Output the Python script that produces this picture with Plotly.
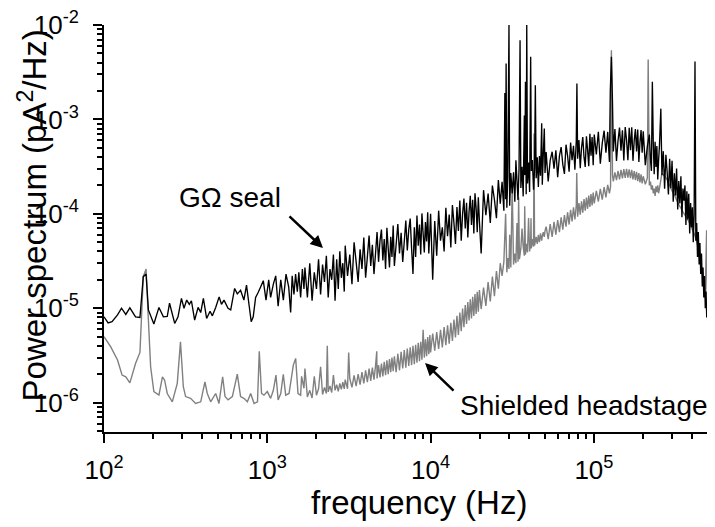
import plotly.graph_objects as go

# ---------------- data ----------------
# frequency in Hz, power in units of 1e-6 pA^2/Hz
# ---- GΩ seal (black) ----
seal_f_1 = [100, 106, 112, 121, 128, 136, 144, 156, 166, 174, 181, 187, 202, 217, 231, 244, 252, 271, 284, 298,
            309, 321, 333, 343, 359, 377, 391, 406, 425, 446, 461, 483, 507, 524, 543, 575, 597, 631, 655, 686,
            719, 746, 775, 797, 820, 848, 876, 910, 945, 982, 1020, 1048, 1089, 1126, 1165, 1209, 1254, 1302,
            1352, 1390, 1420, 1456, 1490, 1527, 1560, 1600, 1640, 1677]
seal_p_1 = [8.1, 7.0, 7.2, 8.5, 10, 8.6, 10.1, 8.1, 8.0, 21.6, 23, 9.6, 6.8, 10.2, 8.1, 8.2, 11.3, 6.9, 8.1, 12.7,
            10, 12.2, 11, 12, 7.5, 10.2, 9.0, 12.7, 7.8, 9.3, 8.3, 10.2, 13.2, 11, 12.2, 10, 9.6, 16.2, 14.2, 15.5,
            12.2, 17.6, 10.5, 7.2, 8.1, 13, 14.5, 16.8, 19.6, 12.2, 20, 13, 18, 22, 10.5, 20, 12.2, 23,
            16.8, 9.0, 22, 14, 23, 15, 24, 13, 26, 16]
seal_f_2 = [1700, 1760, 1820, 1880, 1940, 2000, 2060, 2120, 2180, 2240, 2300, 2360, 2420, 2480, 2540, 2600,
            2660, 2720, 2780, 2840, 2900, 2960,
            3000, 3100, 3200, 3300, 3400, 3500, 3600, 3700, 3800, 3900, 4000, 4100, 4200, 4300, 4400, 4500,
            4600, 4700, 4800, 4900, 5000, 5100, 5200, 5300, 5400, 5500, 5600, 5700, 5800, 5900]
seal_p_2 = [27, 13, 30, 12, 24, 16, 33, 14, 29, 19, 36, 13, 26, 20, 37, 12, 33, 16, 40, 21, 30, 15,
            46, 22, 37, 18, 50, 31, 19, 42, 26, 56, 21, 35, 59, 28, 47, 23, 38, 64, 31, 52,
            68, 32, 54, 26, 71, 43, 27, 57, 35, 75]
seal_f_3 = [6000, 6150, 6300, 6450, 6600, 6750, 6900, 7050, 7200, 7350, 7500, 7650, 7800, 7950, 8100, 8250,
            8400, 8550, 8700, 8850, 9000, 9150, 9300, 9450, 9600, 9750, 9900,
            10000, 10300, 10600, 10900, 11200, 11500, 11800, 12100, 12400, 12700, 13000, 13300, 13600, 13900,
            14200, 14500, 14800, 15100, 15400, 15700, 16000, 16300, 16600, 16900, 17200, 17500, 17800, 18100,
            18400, 18700, 19000, 19300, 19600, 19900]
seal_p_3 = [28, 47, 78, 38, 63, 31, 51, 85, 41, 68, 89, 43, 23, 72, 35, 96, 46, 77, 37, 101, 62, 39, 82, 51,
            104, 38, 67,
            100, 20, 84, 36, 108, 52, 72, 40, 116, 58, 98, 44, 124, 80, 48, 118, 66, 138, 52,
            100, 145, 70, 131, 56, 105, 155, 76, 141, 62, 165, 115, 64, 150, 84]
seal_f_4 = [20400, 21100, 21800, 22500, 23200, 23900, 24600, 25300, 26000, 26700, 27400, 28100, 28500, 28800,
            29000, 29300, 29700, 30200, 30500, 31000, 31600, 32200, 32800, 33300, 33800, 34300, 34800, 35300,
            35700, 36300, 36900, 37500, 37800, 38100, 38500, 38800, 39200, 39800, 40400, 41000, 41400, 42000,
            42700, 43300, 43800, 44300, 45000, 45700, 46400, 47100, 47900, 48300, 49000, 49700, 50200]
seal_p_4 = [38, 178, 97, 164, 80, 199, 141, 90, 228, 128, 218, 108, 1900, 143, 3900, 116, 248, 10000, 122,
            270, 164, 275, 134, 370, 226, 140, 300, 6900, 188, 315, 153, 1100, 257, 2500, 161, 10000, 210, 350,
            170, 4600, 285, 372, 180, 300, 2300, 238, 397, 192, 410, 253, 910, 203, 433, 800, 271]
seal_f_5 = [51000, 52500, 54000, 55500, 57000, 58500, 60000, 61500, 63000, 64500, 66000, 67500, 69000, 70500,
            72000, 73500, 75000, 76500, 78000, 78700, 79500, 81000, 82500, 84000, 85500, 87000, 88500, 90000,
            91500, 93000, 94500, 96000, 97500, 99000,
            100500, 103500, 106500, 109500, 112500, 115500, 118500, 121500, 124500, 126000, 128000, 130000,
            131500, 134500, 137500, 140500, 143500, 146500, 149500, 152500, 155500, 158500, 161500, 164500,
            167500, 170500, 173500, 176500, 179500, 182500, 185500, 188500, 191500, 194500, 197500]
seal_p_5 = [450, 220, 369, 455, 301, 470, 245, 410, 510, 333, 265, 540, 412, 280, 570, 369, 524, 294, 594,
            2400, 384, 606, 305, 503, 649, 398, 313, 661, 475, 319, 706, 413, 650, 327,
            693, 426, 739, 339, 561, 759, 445, 737, 354, 2000, 4600, 1500, 458, 792, 362, 595, 819, 467,
            769, 367, 828, 605, 370, 814, 471, 824, 364, 594, 792, 458, 783, 354, 577, 770, 444]
seal_f_6 = [200500, 206500, 212500, 218500, 222000, 225000, 228000, 231000, 234000, 237000, 240000, 243000,
            246000, 249000, 252000, 257000, 261000, 266000, 271000, 276000, 281000, 286000, 291000, 296000,
            301000, 306000, 311000, 316000, 321000, 326000, 331000, 336000, 341000, 346000, 351000, 356000,
            361000, 366000, 371000, 376000, 381000, 386000, 391000, 396000, 401000, 406000, 411000, 416000,
            421000, 426000, 431000, 436000, 441000, 446000, 451000, 456000, 461000, 466000, 471000, 476000,
            481000, 486000, 491000, 496000, 500000]
seal_p_6 = [748, 328, 517, 690, 374, 285, 2500, 571, 262, 580, 314, 524, 231, 369, 523, 1300, 256, 461, 184,
            422, 276, 160, 383, 187, 364, 134, 269, 156, 302, 111, 223, 129, 250, 92, 185, 138, 200, 76, 173,
            87, 163, 62, 130, 72, 117, 50, 99, 4100, 52, 80, 35, 64, 29, 49, 23, 38, 17, 27, 13, 22,
            10, 15, 8, 10, 7]

# ---- Shielded headstage (grey) ----
shield_f_1 = [100, 110, 121, 129, 136, 144, 156, 166, 174, 181, 187, 193, 202, 217, 228, 235, 244, 262, 281,
              294, 306, 316, 339, 364, 391, 415, 429, 450, 483, 506, 533, 551, 575, 611, 655, 686, 719, 755,
              791, 830, 871, 893, 922, 954, 1000, 1048, 1089, 1130, 1165, 1209, 1253, 1296, 1359, 1443, 1492,
              1542, 1600, 1622, 1677]
shield_p_1 = [5.0, 3.9, 2.83, 1.96, 1.88, 1.62, 2.6, 3.4, 21.6, 26, 7.5, 2.4, 1.31, 1.2, 1.88, 1.73, 1.25,
              1.02, 1.6, 4.4, 1.48, 1.16, 1.11, 0.98, 1.02, 1.66, 1.25, 1.02, 1.25, 0.98, 1.88, 1.16, 1.07,
              1.16, 2.0, 1.16, 1.11, 1.02, 1.25, 0.98, 1.02, 3.5, 1.25, 1.2, 1.31, 1.11, 1.35, 1.96, 1.07,
              1.25, 2.0, 1.2, 1.25, 2.5, 2.94, 1.25, 1.2, 1.9, 1.42]
shield_f_2 = [1700, 1760, 1820, 1880, 1940, 2000, 2060, 2120, 2180, 2240, 2300, 2330, 2360, 2420, 2480, 2540,
              2600, 2660, 2720, 2780, 2840, 2900, 2960,
              3000, 3100, 3150, 3200, 3300, 3400, 3500, 3600, 3700, 3800, 3900, 4000, 4100, 4200, 4300, 4400,
              4500, 4600, 4680, 4700, 4800, 4900, 5000, 5100, 5200, 5300, 5400, 5500, 5600, 5700, 5800, 5900]
shield_p_2 = [2.3, 1.15, 1.35, 1.12, 1.9, 1.2, 1.4, 2.4, 1.22, 1.45, 1.25, 4.0, 1.3, 1.5, 1.28, 1.96, 1.35,
              1.55, 1.32, 1.6, 1.38, 1.65, 1.4,
              1.75, 1.4, 3.4, 1.8, 1.45, 1.95, 1.5, 2.0, 1.55, 2.1, 1.6, 2.2, 1.65, 2.3, 1.7, 2.35, 1.75, 2.45,
              3.5, 1.8, 2.5, 1.85, 2.6, 1.9, 2.7, 1.95, 2.8, 2.0, 2.9, 2.1, 3.0, 2.15]
shield_f_3 = [6000, 6150, 6300, 6450, 6600, 6750, 6900, 7050, 7200, 7350, 7500, 7650, 7800, 7950, 8100, 8250,
              8400, 8550, 8700, 8850, 9000, 9150, 9300, 9450, 9600, 9750, 9900,
              10000, 10300, 10600, 10900, 11200, 11500, 11800, 12100, 12400, 12700, 13000, 13300, 13600,
              13900, 14200, 14500, 14800, 15100, 15400, 15700, 16000, 16300, 16600, 16900, 17200, 17500,
              17800, 18100, 18400, 18700, 19000, 19300, 19600, 19900]
shield_p_3 = [3.1, 2.1, 3.3, 2.2, 3.45, 2.3, 3.6, 2.35, 3.75, 2.45, 3.85, 2.5, 4.0, 2.55, 4.1, 2.65, 4.3, 2.75,
              4.4, 2.85, 5.9, 3.0, 4.7, 3.1, 4.95, 3.25, 5.2,
              3.4, 5.4, 3.55, 5.6, 3.7, 5.9, 3.85, 6.3, 4.05, 6.6, 4.2, 7.0, 4.5, 7.6, 4.9, 8.3, 5.2, 9.0, 5.7,
              9.9, 6.3, 10.8, 6.8, 11.6, 7.4, 12.4, 7.8, 13.2, 8.3, 14.1, 8.7, 14.9, 9.2, 15.6]
shield_f_4 = [20400, 21100, 21800, 22500, 23200, 23900, 24600, 25300, 26000, 26700, 27400, 28100, 28800,
              29300, 29700, 30200, 30500, 31000, 31600, 32200, 32800, 33300, 33800, 34300, 34600, 35000,
              35700, 36300, 36900, 37500, 37700, 38100, 38500, 39200, 39800, 40400, 41000, 41200, 41400,
              42000, 42700, 43000, 43300, 44300, 45000, 45700, 46400, 47100, 47900, 48300, 49000, 49700, 50200]
shield_p_4 = [9.8, 16.5, 10.6, 18.9, 11.8, 21.6, 13.4, 24.8, 16.1, 30, 22, 31, 100, 24, 34, 26, 60, 27, 200,
              29, 38, 30, 80, 31, 150, 33, 43, 70, 45, 36, 120, 37, 48, 39, 90, 40, 52, 90, 43, 54, 45, 710, 46,
              57, 48, 60, 50, 62, 52, 58, 64, 57, 66]
shield_f_5 = [51000, 52500, 54000, 55500, 57000, 58500, 60000, 61500, 63000, 64500, 66000, 67500, 69000,
              70500, 72000, 73500, 75000, 76500, 78000, 78500, 79500, 81000, 82500, 84000, 85500, 87000,
              88500, 90000, 91500, 93000, 94500, 96000, 97500, 99000,
              100500, 103500, 106500, 109500, 112500, 115500, 118500, 121500, 124500, 126500, 127000, 128000,
              129000, 130000, 131500, 134500, 137500, 140500, 143500, 146500, 149500, 152500, 155500, 158500,
              161500, 164500, 167500, 170500, 173500, 176500, 179500, 182500, 185500, 188500, 191500, 194500,
              197500]
shield_p_5 = [73, 54, 78, 57, 82, 60, 86, 64, 92, 68, 97, 73, 104, 77, 110, 83, 117, 87, 123, 270, 93, 130,
              98, 136, 103, 143, 108, 149, 113, 156, 118, 162, 123, 168,
              129, 175, 135, 184, 141, 192, 149, 203, 165, 195, 1200, 5400, 1500, 255, 220, 275, 228, 285, 232,
              292, 238, 298, 240, 300, 242, 296, 238, 292, 232, 284, 228, 278, 222, 270, 215, 262, 210]
shield_f_6 = [200500, 206500, 212500, 215000, 218500, 222000, 225000, 228000, 231000, 234000, 237000, 240000,
              243000, 246000, 249000, 252000, 261000, 271000, 281000, 291000, 301000, 311000, 321000, 331000,
              341000, 351000, 361000, 371000, 381000, 391000, 401000, 411000, 421000, 431000, 441000, 451000,
              461000, 471000, 481000, 490000, 496000, 500000]
shield_p_6 = [250, 205, 240, 4300, 200, 220, 180, 200, 165, 185, 155, 195, 170, 200, 165, 185, 270, 250, 230,
              200, 175, 160, 140, 125, 115, 105, 97, 90, 83, 76, 68, 62, 55, 47, 38, 31, 25, 19, 15, 67, 9, 5]

# tick labels
x_tick_vals = [1e2, 1e3, 1e4, 1e5]
x_tick_text = ["10<sup>2</sup>", "10<sup>3</sup>", "10<sup>4</sup>", "10<sup>5</sup>"]
y_tick_vals = [1e-6, 1e-5, 1e-4, 1e-3, 1e-2]
y_tick_text = ["10<sup>-6</sup>", "10<sup>-5</sup>", "10<sup>-4</sup>", "10<sup>-3</sup>", "10<sup>-2</sup>"]

# ---------------- assemble ----------------
seal_segments = [(seal_f_1, seal_p_1), (seal_f_2, seal_p_2), (seal_f_3, seal_p_3),
                 (seal_f_4, seal_p_4), (seal_f_5, seal_p_5), (seal_f_6, seal_p_6)]
shield_segments = [(shield_f_1, shield_p_1), (shield_f_2, shield_p_2), (shield_f_3, shield_p_3),
                   (shield_f_4, shield_p_4), (shield_f_5, shield_p_5), (shield_f_6, shield_p_6)]


def join(segments, name):
    fs, ps = [], []
    for i, (f, p) in enumerate(segments):
        assert len(f) == len(p), f"{name} segment {i + 1}: {len(f)} freqs vs {len(p)} values"
        fs += f
        ps += [v * 1e-6 for v in p]
    assert all(a < b for a, b in zip(fs, fs[1:])), f"{name} frequencies not increasing"
    return fs, ps


freq_seal, psd_seal = join(seal_segments, "seal")
freq_shield, psd_shield = join(shield_segments, "shield")

FONT = "Liberation Sans, Arial, sans-serif"

x_minor = [k * 10 ** e for e in range(2, 6) for k in range(2, 10) if k * 10 ** e <= 5.5e5]
y_minor = [k * 10.0 ** e for e in range(-7, -2) for k in range(2, 10) if 4.9e-7 <= k * 10.0 ** e <= 1e-2]

fig = go.Figure()
fig.add_trace(go.Scatter(x=freq_shield, y=psd_shield, mode="lines",
                         line=dict(color="#808080", width=1.4, simplify=False),
                         showlegend=False, hoverinfo="skip"))
fig.add_trace(go.Scatter(x=freq_seal, y=psd_seal, mode="lines",
                         line=dict(color="#000000", width=1.35, simplify=False),
                         showlegend=False, hoverinfo="skip"))

axis_common = dict(
    type="log", showgrid=False, zeroline=False, showline=True, linecolor="black", linewidth=2,
    ticks="outside", ticklen=9, tickwidth=2, tickcolor="black", ticklabeloverflow="allow",
    tickfont=dict(family=FONT, size=26, color="black"), tickmode="array",
)
fig.update_xaxes(range=[2, 5.7416], tickvals=x_tick_vals, ticktext=x_tick_text, ticklabelstandoff=5,
                 minor=dict(ticks="outside", ticklen=5, tickwidth=1.5, tickcolor="black",
                            tickmode="array", tickvals=x_minor, showgrid=False),
                 **axis_common)
fig.update_yaxes(range=[-6.311, -2], tickvals=y_tick_vals, ticktext=y_tick_text, ticklabelstandoff=9,
                 minor=dict(ticks="outside", ticklen=5, tickwidth=1.5, tickcolor="black",
                            tickmode="array", tickvals=y_minor, showgrid=False),
                 **axis_common)

ann_font = dict(family=FONT, size=28, color="black")
title_font = dict(family=FONT, size=33, color="black")
# the page adds an 8px body margin, so the figure is sized to fill the rest of the window
fig.update_layout(
    width=707, height=519,
    margin=dict(l=96, r=0, t=17, b=95),
    paper_bgcolor="white", plot_bgcolor="white",
    font=dict(family=FONT, color="black"),
    annotations=[
        dict(text="Power spectrum (pA<sup>2</sup>/Hz)", xref="paper", yref="paper", x=-0.1162, y=0.532,
             xanchor="center", yanchor="middle", textangle=-90, showarrow=False, font=title_font),
        dict(text="frequency (Hz)", xref="paper", yref="paper", x=0.5159, y=-0.172,
             xanchor="center", yanchor="middle", showarrow=False, font=title_font),
        dict(text="GΩ seal", xref="paper", yref="paper", x=0.2062, y=0.575,
             xanchor="center", yanchor="middle", showarrow=False, font=ann_font),
        dict(text="Shielded headstage", xref="paper", yref="paper", x=0.7848, y=0.064,
             xanchor="center", yanchor="middle", showarrow=False, font=ann_font),
        dict(text="", xref="x", yref="y", x=3.341, y=-4.362, ax=-35, ay=-33, showarrow=True,
             arrowhead=2, arrowsize=1, arrowwidth=2.5, arrowcolor="black"),
        dict(text="", xref="x", yref="y", x=3.966, y=-5.581, ax=30, ay=29, showarrow=True,
             arrowhead=2, arrowsize=1, arrowwidth=2.5, arrowcolor="black"),
    ],
)

fig.write_html("out.html")
